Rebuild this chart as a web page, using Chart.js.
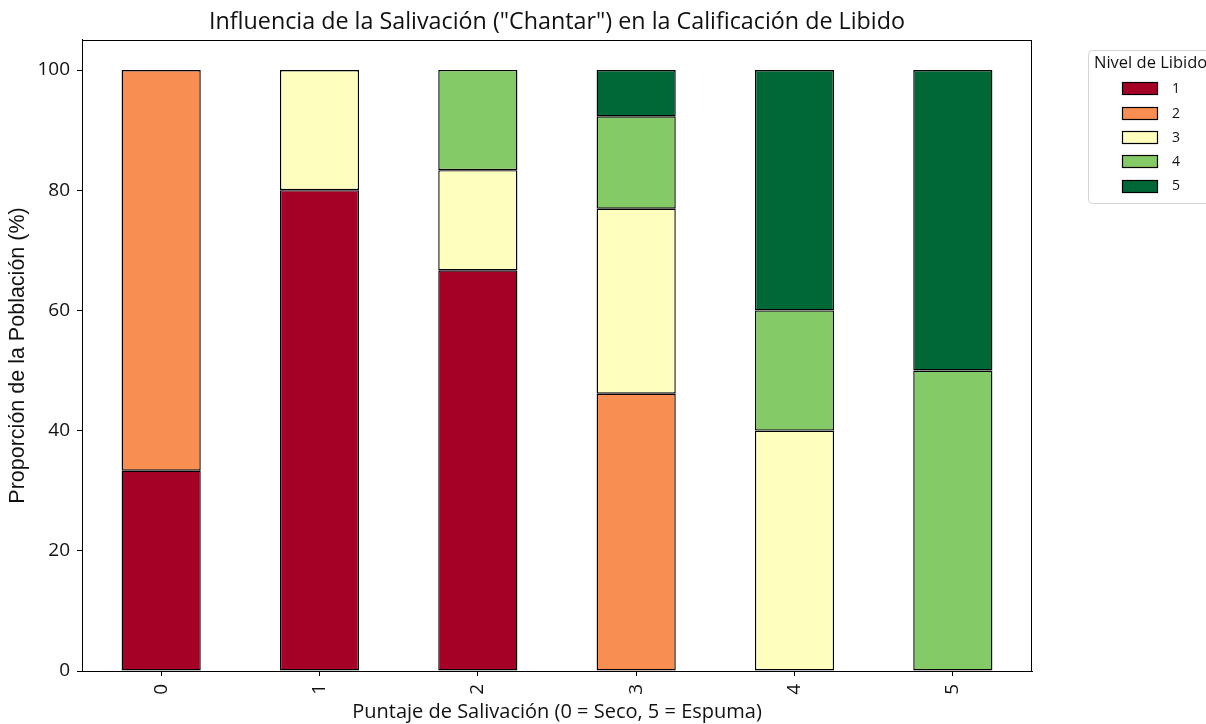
<!DOCTYPE html>
<html><head><meta charset="utf-8">
<script src="https://cdn.jsdelivr.net/npm/chart.js@4"></script>
<style>html,body{margin:0;padding:0;background:#fff}#wrap{width:1206px;height:724px}</style>
</head><body><div id="wrap"><canvas id="c" width="1206" height="724"></canvas></div>
<script>
const categories = ['0', '1', '2', '3', '4', '5'];
const levels = ['1', '2', '3', '4', '5'];
const level1 = [33.33, 80, 66.67, null, null, null];
const level2 = [66.67, null, null, 46.15, null, null];
const level3 = [null, 20, 16.67, 30.77, 40, null];
const level4 = [null, null, 16.67, 15.38, 20, 50];
const level5 = [null, null, null, 7.69, 40, 50];
const colors = ['#a50026', '#f98e52', '#feffbe', '#84ca66', '#006837'];
const yTicks = [0, 20, 40, 60, 80, 100];

const FONT = '"Open Sans", sans-serif';
const series = [level1, level2, level3, level4, level5];

const framePlugin = {
  id: 'frame',
  afterDatasetsDraw(chart) {
    const {ctx, chartArea: a} = chart;
    ctx.save();
    ctx.strokeStyle = '#000';
    ctx.lineWidth = 1;
    ctx.strokeRect(Math.round(a.left) + 0.5, Math.round(a.top) + 0.5, Math.round(a.right - a.left) - 1, Math.round(a.bottom - a.top));
    ctx.restore();
  }
};

const legendPlugin = {
  id: 'outLegend',
  afterDraw(chart) {
    const ctx = chart.ctx;
    ctx.save();
    const bx = 1088.5, by = 50.5, bw = 150, bh = 153, r = 4;
    ctx.beginPath();
    ctx.moveTo(bx + r, by);
    ctx.lineTo(bx + bw - r, by);
    ctx.arcTo(bx + bw, by, bx + bw, by + r, r);
    ctx.lineTo(bx + bw, by + bh - r);
    ctx.arcTo(bx + bw, by + bh, bx + bw - r, by + bh, r);
    ctx.lineTo(bx + r, by + bh);
    ctx.arcTo(bx, by + bh, bx, by + bh - r, r);
    ctx.lineTo(bx, by + r);
    ctx.arcTo(bx, by, bx + r, by, r);
    ctx.closePath();
    ctx.fillStyle = 'rgba(255,255,255,0.8)';
    ctx.fill();
    ctx.strokeStyle = '#d4d4d4';
    ctx.lineWidth = 1;
    ctx.stroke();
    ctx.fillStyle = '#111';
    ctx.font = '16.5px ' + FONT;
    ctx.textBaseline = 'middle';
    ctx.textAlign = 'left';
    ctx.fillText('Nivel de Libido', 1094, 63);
    ctx.font = '14px ' + FONT;
    chart.data.datasets.forEach((ds, i) => {
      const cy = 88.3 + i * 24.3;
      ctx.fillStyle = ds.backgroundColor;
      ctx.fillRect(1122.5, Math.round(cy - 6) + 0.5, 35, 12);
      ctx.strokeStyle = '#000';
      ctx.lineWidth = 1.2;
      ctx.strokeRect(1122.5, Math.round(cy - 6) + 0.5, 35, 12);
      ctx.fillStyle = '#111';
      ctx.fillText(ds.label, 1172, cy + 1);
    });
    ctx.restore();
  }
};

new Chart(document.getElementById('c'), {
  type: 'bar',
  data: {
    labels: categories,
    datasets: levels.map((lv, i) => ({
      label: lv,
      data: series[i],
      backgroundColor: colors[i],
      borderColor: '#000',
      borderWidth: 1.4,
      borderSkipped: false,
      barPercentage: 0.5,
      categoryPercentage: 1.0
    }))
  },
  options: {
    responsive: false,
    devicePixelRatio: 1,
    animation: false,
    layout: {padding: {left: 0, right: 174, top: 0, bottom: 0}},
    plugins: {
      legend: {display: false},
      tooltip: {enabled: false},
      title: {
        display: true,
        text: 'Influencia de la Salivación ("Chantar") en la Calificación de Libido',
        fullSize: false,
        color: '#111',
        font: {family: FONT, size: 23.3, weight: 'normal', lineHeight: 1.2},
        padding: {top: 8, bottom: 4}
      }
    },
    scales: {
      x: {
        stacked: true,
        offset: true,
        afterFit(s) { s.height = 53; },
        grid: {display: true, drawOnChartArea: false, drawTicks: true, tickLength: 5, color: '#000', offset: false},
        border: {display: true, color: '#000', width: 1},
        ticks: {minRotation: 90, maxRotation: 90, padding: 8, color: '#111', font: {family: FONT, size: 19}},
        title: {display: true, text: 'Puntaje de Salivación (0 = Seco, 5 = Espuma)', color: '#111',
                font: {family: FONT, size: 20}, padding: {top: 0, bottom: 0}}
      },
      y: {
        stacked: true,
        min: 0,
        max: 105,
        afterFit(s) { s.width = 82; },
        afterBuildTicks(s) { s.ticks = yTicks.map(v => ({value: v})); },
        grid: {display: true, drawOnChartArea: false, drawTicks: true, tickLength: 5, color: '#000'},
        border: {display: true, color: '#000', width: 1},
        ticks: {padding: 7, color: '#111', font: {family: FONT, size: 19}},
        title: {display: true, text: 'Proporción de la Población (%)', color: '#111',
                font: {family: '"Liberation Sans", Arial, sans-serif', size: 21.5}, padding: {top: 5, bottom: 0}}
      }
    }
  },
  plugins: [framePlugin, legendPlugin]
});
</script></body></html>
